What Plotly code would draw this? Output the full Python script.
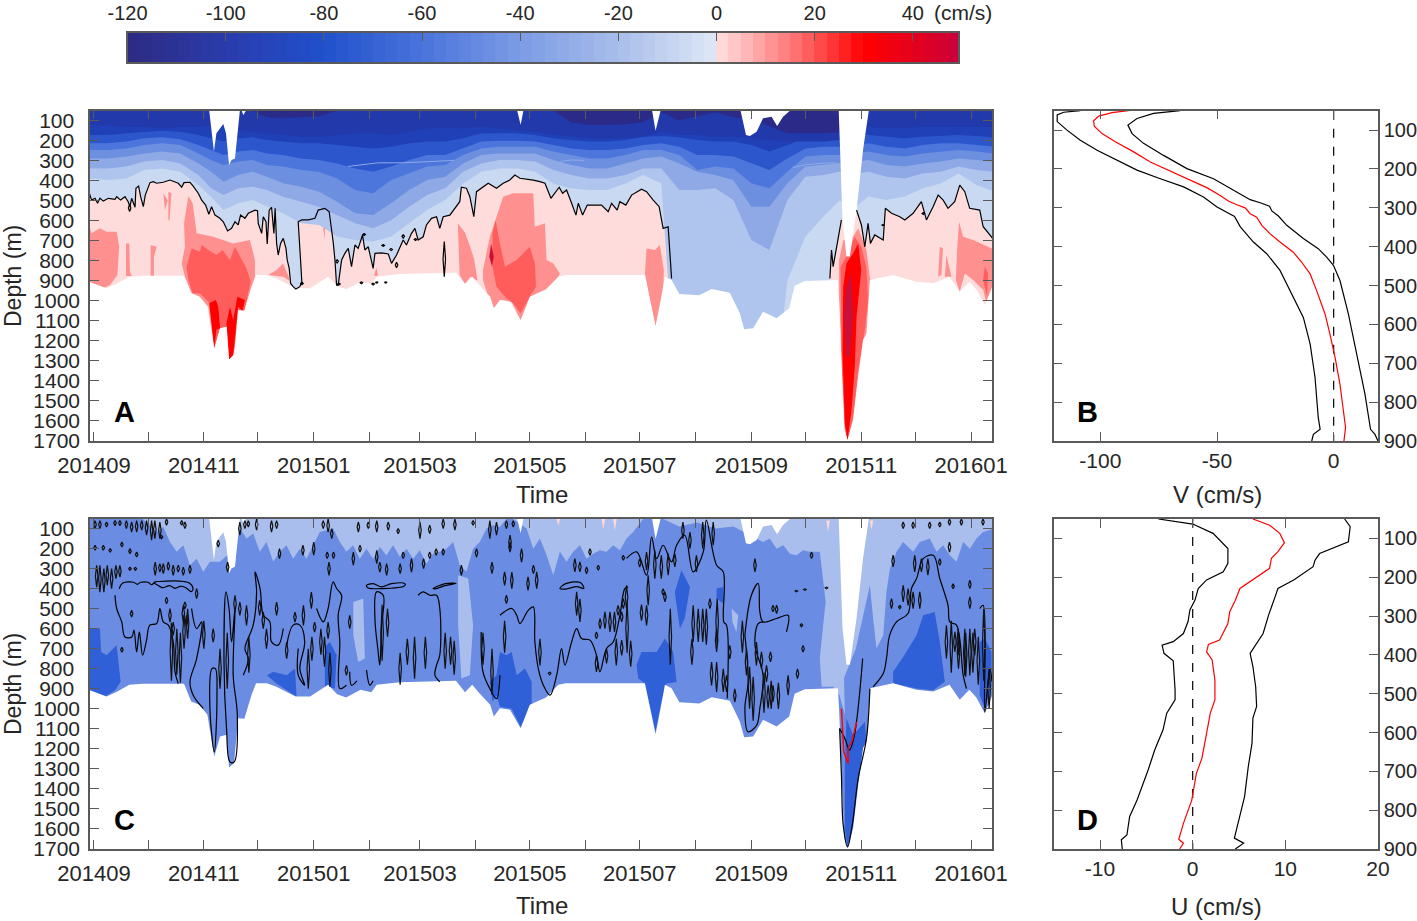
# Meridional (V) and zonal (U) velocity sections with mean profiles
import pandas as pd
import plotly.graph_objects as go

W, H = 1417, 921
start = pd.Timestamp('2014-09-01')
font_name = 'Liberation Sans'
txt = '#262626'
axc = '#5A5A5A'

month_days = [0, 30, 61, 91, 122, 153, 181, 212, 242, 273, 303, 334, 365, 395, 426, 456, 487]
month_text = ['201409', '', '201411', '', '201501', '', '201503', '', '201505', '', '201507', '', '201509', '', '201511', '', '201601']
depth_ticks = list(range(100, 1800, 100))
profile_ticks = list(range(100, 1000, 100))

# colour bar
cb_levels = [-120 + 2.5 * i for i in range(68)]
cb_stops = [(-120, '#2E2A82'), (-100, '#2A3CAC'), (-80, '#2050CC'), (-60, '#4A74DC'), (-40, '#7B9BE4'),
            (-20, '#A8BDEA'), (-0.01, '#DEE8F6'), (0, '#FFE0E0'), (10, '#FF9C9C'), (20, '#FF5555'),
            (30, '#FF0000'), (40, '#E6001C'), (50, '#C8003C')]

# isotachs of V, depth in m at these days since 2014-09-01
iso_days = [-3, 8, 18, 28, 38, 48, 58, 65, 72, 80, 88, 96, 105, 115, 125, 135, 145, 155, 165, 175, 185, 195, 205, 215, 225, 235, 245, 255, 265, 275, 285, 295, 305, 315, 325, 335, 345, 355, 365, 375, 385, 395, 405, 414, 423, 430, 440, 450, 460, 470, 480, 490, 500]
v_m10 = [390, 398, 390, 348, 340, 356, 423, 481, 548, 514, 498, 531, 564, 614, 622, 680, 697, 705, 680, 614, 548, 498, 415, 356, 340, 340, 356, 415, 440, 448, 448, 415, 373, 415, 1700, 1700, 1700, 1700, 1700, 1700, 900, 680, 580, 500, 530, 480, 498, 480, 440, 415, 365, 423, 456]
v_m20 = [340, 340, 331, 306, 298, 315, 373, 439, 473, 439, 431, 448, 481, 506, 531, 573, 614, 639, 598, 531, 473, 439, 356, 315, 298, 298, 306, 348, 373, 390, 390, 373, 340, 340, 448, 448, 439, 498, 697, 747, 498, 381, 373, 356, 365, 356, 381, 390, 365, 356, 331, 348, 356]
v_m30 = [290, 290, 281, 265, 256, 265, 315, 356, 406, 373, 356, 381, 414, 431, 456, 506, 564, 573, 514, 448, 398, 381, 315, 273, 265, 265, 265, 298, 323, 340, 340, 315, 290, 281, 315, 356, 373, 398, 531, 531, 414, 331, 323, 315, 306, 298, 323, 331, 315, 306, 290, 298, 306]
v_m40 = [248, 248, 240, 223, 215, 223, 265, 298, 323, 306, 298, 323, 331, 348, 356, 390, 448, 464, 398, 365, 331, 323, 273, 240, 232, 232, 232, 256, 273, 290, 290, 273, 248, 248, 273, 348, 331, 340, 414, 439, 356, 281, 273, 273, 265, 256, 273, 281, 265, 256, 248, 256, 265]
v_m50 = [215, 215, 206, 190, 185, 195, 223, 248, 273, 256, 248, 265, 273, 290, 298, 315, 340, 356, 331, 298, 273, 273, 240, 206, 202, 202, 206, 223, 240, 248, 248, 240, 223, 215, 232, 273, 273, 281, 315, 348, 290, 240, 232, 232, 223, 215, 232, 240, 223, 215, 215, 223, 232]
v_m70 = [173, 173, 165, 157, 152, 157, 173, 190, 206, 190, 185, 198, 206, 215, 215, 223, 232, 240, 232, 215, 206, 206, 190, 165, 165, 165, 173, 190, 198, 206, 206, 198, 182, 178, 185, 198, 206, 206, 223, 256, 223, 190, 185, 185, 173, 173, 182, 190, 182, 178, 173, 178, 185]
v_m90 = [123, 123, 132, 132, 140, 132, 132, 123, 132, 148, 157, 165, 173, 182, 182, 173, 165, 165, 173, 157, 140, 140, 140, 132, 140, 148, 157, 173, 182, 190, 190, 190, 182, 157, 173, 173, 182, 182, 190, 198, 206, 206, 206, 198, 140, 132, 140, 140, 132, 132, 132, 132, 132]
v_m100 = [52, 52, 52, 52, 52, 52, 52, 52, 52, 52, 52, 85, 90, 85, 80, 52, 52, 52, 52, 52, 52, 52, 52, 52, 52, 52, 52, 52, 110, 123, 123, 120, 110, 60, 100, 80, 60, 85, 95, 130, 165, 165, 165, 160, 52, 52, 52, 52, 52, 52, 52, 52, 52]
blue_colors = ['#C9D9F1', '#B0C5EE', '#8EA9E6', '#6C8FE0', '#4C76DB', '#2C56CC', '#1F40B6', '#2139AB', '#2B2A88']
blue_isos = [v_m10, v_m20, v_m30, v_m40, v_m50, v_m70, v_m90, v_m100]
# pale thin streaks inside the blue bands
streak_days = [141, 150, 158, 172, 185, 200, None, 259, 265, 272, None, 388, 395, 404, 412]
streak_depth = [330, 322, 312, 312, 305, 300, None, 305, 298, 300, None, 335, 322, 314, 312]

# zero contour of V, None where it stops
zero_days = [-3, -1.3, 0.6, 2, 3.3, 5.2, 8, 11.7, 12.6, 14.8, 17.2, 19, 20, 20.9, 22.8, 23.3, 24.8, 25.9, 27.4, 28.5, 31.1, 32.9, 34.8, 38.5, 42.2, 45, 46.8, 48.7, 50, 53.3, 55.1, 57.9, 59.8, 62, 63.8, 65.3, 67.2, 69.9, 71.8, 74.2, 76.4, 78.3, 80.1, 81.4, 83.8, 85.7, 89.4, 90.8, 91.2, 93.1, 94, 95.5, 96.2, 97.3, 98.6, 99.9, 100.6, 101.4, 102.3, 103.6, 105.1, 106.6, 107.3, 108.4, 109.2, 110.6, 112.1, 114.3, 115.4, 114.7, 113.4, 115.3, 119, 122.7, 124.5, 128.2, 130.6, 132.8, 133.8, 134.7, 135.6, 137.5, 139.3, 141.2, 143, 144.9, 146.7, 149.1, 150.4, 152.3, 155, 156, 159.7, 163.4, 165.2, 168, 169.8, 171.7, 173.5, 176.3, 178.2, 180, 182.8, 184.6, 187.4, 190.2, 192, 193.9, 197.6, 200.4, 203.1, 204, 206.8, 208.7, 210.9, 212.4, 215.2, 218.9, 223.5, 227.2, 230.9, 233.7, 236.5, 240.2, 243.9, 247.6, 250.4, 253.7, 255.9, 258.3, 260.2, 262.4, 265.2, 267.6, 268.9, 271.3, 273.9, 278.1, 281.8, 285.5, 287.4, 290.5, 292, 295.3, 298.5, 304, 306.8, 310.5, 313.8, 316, 318.8, 320.7, None, 408.6, 409.5, 410.4, 412.3, 415, None, 423.4, 426.1, 428, 429.8, 431.1, 433.5, 438.2, 439.4, 442.8, 447.4, 450.2, 454.8, 459.4, 462.2, 465.9, 468.7, 471.5, 474.2, 477.9, 480.7, 483.5, 486.2, 491.8, 493.7, 500]
zero_depth = [451, 498, 489, 514, 489, 503, 489, 494, 481, 498, 481, 506, 531, 489, 534, 439, 428, 481, 531, 473, 411, 406, 414, 409, 398, 406, 414, 434, 411, 409, 428, 464, 498, 523, 569, 531, 573, 589, 606, 652, 639, 606, 622, 573, 589, 564, 548, 551, 614, 664, 581, 606, 717, 548, 534, 664, 539, 714, 772, 714, 689, 739, 797, 839, 914, 930, 942, 930, 905, 797, 606, 597, 597, 589, 548, 539, 556, 706, 797, 922, 922, 797, 764, 739, 830, 722, 739, 672, 747, 731, 839, 764, 761, 767, 814, 772, 731, 697, 722, 664, 639, 697, 681, 622, 589, 581, 639, 581, 573, 539, 506, 434, 439, 481, 581, 456, 439, 414, 439, 414, 398, 373, 389, 393, 398, 406, 414, 489, 464, 434, 464, 448, 514, 573, 514, 573, 523, 523, 523, 556, 514, 548, 506, 523, 473, 444, 456, 498, 531, 639, 631, 889, None, 889, 747, 830, 731, 597, None, 548, 622, 731, 614, 714, 672, 697, 539, 564, 581, 597, 564, 506, 597, 531, 473, 498, 539, 506, 423, 456, 539, 548, 631, 700]
# isolated closed zero contours in A, as short strokes
a_stroke_days = [19.8, 194.5, 171.7, 178.5, 150, 160.6, 165, 168, 135, 136, 148.5, 155, 115.5, 157, 162, 438, 460.5]
a_stroke_top = [520, 705, 670, 690, 665, 720, 740, 808, 795, 912, 905, 912, 908, 905, 905, 620, 560]
a_stroke_bot = [555, 880, 688, 700, 675, 728, 750, 835, 812, 922, 915, 922, 920, 912, 912, 625, 570]

# data edges, shared by A and C
bottom_days = [-3, 7, 13, 19.6, 27, 50, 54, 58.5, 63, 66.8, 70, 73.7, 75, 77.8, 80, 83.5, 87.5, 90, 96, 101, 112, 120, 130, 135, 140, 148, 154, 157, 170, 201, 206, 210, 214, 220, 222, 225.4, 231, 236.9, 242, 251, 257.8, 262, 305.9, 308.7, 311.8, 315, 317, 320.7, 325, 336, 343, 353, 358.6, 361, 366, 371.5, 379, 386, 389, 394.7, 413, 413.7, 415, 416.5, 418.4, 421.5, 424.3, 427, 429, 430.8, 443.7, 456.6, 466, 475, 480.7, 486, 490, 494.6, 500]
bottom_depth = [905, 938, 913, 880, 875, 875, 963, 980, 1030, 1238, 1138, 1130, 1293, 1271, 1047, 1050, 930, 872, 872, 888, 938, 938, 880, 927, 943, 905, 917, 880, 867, 860, 917, 880, 922, 980, 1038, 997, 1005, 1097, 980, 943, 880, 872, 872, 997, 1127, 980, 880, 897, 967, 973, 942, 960, 1063, 1142, 1138, 1055, 1088, 1038, 925, 902, 897, 1000, 1330, 1640, 1696, 1596, 1380, 1196, 1163, 897, 872, 905, 913, 880, 955, 905, 945, 1022, 905]
gap_days = [[64, 66.6, 68, 71.8, 73.3, 75, 76.4, 78.3, 81], [82, 82.9, 84.4], [235, 236.9, 238.4], [309.9, 311.8, 314.6], [359, 362, 364.2, 367.9, 371.5, 376.2, 379.3, 382.6, 386.4], [413.5, 415, 415.6, 417.8, 419.7, 423.4, 427, 430.2]]
gap_depth = [[52, 256, 165, 118, 165, 323, 298, 290, 52], [52, 73, 52], [52, 123, 52], [52, 152, 52], [52, 173, 178, 157, 90, 82, 128, 82, 52], [52, 498, 597, 780, 780, 548, 248, 52]]

# positive V patches in A
red10_days = [[-3, -1.3, 3.3, 7, 12.6, 14, 13, 9, 5.2, -3], [17.8, 19.6, 20, 21, 17.8], [31.5, 34.8, 33.3, 33.3, 31.5], [38.5, 41, 39.4], [41.3, 43, 42, 41.3], [52.4, 54.8, 57, 66.2, 77.3, 86.6, 89.4, 89.4, 87.5, 83.4, 77.3, 75, 73.6, 70, 66.8, 63.5, 58.8, 54.2, 50.5, 48.7, 50.5, 50], [96.8, 101.4, 105, 108, 108.5, 105], [156.8, 157.8, 155.5], [127.3, 128.2, 128.2], [202, 206, 209, 211, 213, 209, 206, 203], [216, 219.8, 227.2, 232.8, 243.9, 244.8, 250.4, 251.3, 255, 258.7, 256.9, 252.2, 243.9, 236.9, 231.9, 226.3, 222, 218.9, 216], [306.8, 311.4, 314.2, 316.4, 316, 311.8, 308.7, 305.9], [469.6, 471.4, 470.5, 468.7], [473.3, 475.2, 476.1, 472.4], [480.3, 482.6, 488.1, 500, 500, 495.5, 493.7, 488.1, 483.5, 480.7, 478.5, 479.2], [416, 421.5, 424.3, 428.9, 431, 428.9, 424.3, 421.5, 418.4, 416.9, 415.4, 413.7, 413.7]]
red10_depth = [[614, 664, 639, 656, 656, 730, 872, 922, 938, 905], [714, 714, 855, 877, 877], [722, 731, 781, 877, 877], [464, 500, 548], [456, 464, 598, 598], [478, 514, 664, 681, 714, 697, 797, 880, 930, 1050, 1263, 1293, 1130, 1138, 1238, 1030, 980, 963, 880, 814, 731, 614], [872, 847, 814, 877, 900, 880], [835, 875, 875], [640, 630, 697], [614, 660, 735, 790, 900, 880, 917, 870], [847, 681, 481, 464, 464, 631, 614, 797, 814, 864, 897, 943, 980, 1097, 1005, 997, 1038, 980, 897], [739, 747, 722, 847, 980, 1127, 997, 864], [731, 739, 872, 880], [772, 847, 880, 880], [606, 681, 697, 745, 897, 1013, 947, 897, 864, 955, 897, 747], [698, 681, 639, 747, 897, 1163, 1380, 1596, 1696, 1646, 1330, 997, 797]]
red20_days = [[51.4, 54.2, 58.8, 59.8, 63.5, 68, 71.4, 75.5, 78.3, 84.7, 87, 83.8, 77.3, 75, 73.6, 70, 66.8, 64.4, 58.8, 54.8, 52.4], [221.3, 223, 225, 228.2, 234.7, 242, 244.8, 245.4, 243, 236.9, 232.8, 228.2, 223.5, 221.3], [494.6, 496.4, 495.9, 493.7], [417.8, 422.4, 426, 428.9, 429.8, 428, 424.3, 421.5, 418.4, 416.9, 415, 414.5, 414.5]]
red20_depth = [[830, 739, 756, 722, 747, 772, 747, 797, 731, 839, 905, 1038, 1263, 1293, 1130, 1138, 1238, 1013, 963, 963, 897], [664, 598, 697, 830, 797, 731, 814, 930, 964, 1063, 1014, 980, 930, 830], [830, 864, 980, 897], [780, 681, 731, 830, 997, 1146, 1347, 1580, 1696, 1630, 1297, 997, 830]]
red30_days = [[64, 67.7, 69, 70, 68, 66.8], [73.6, 75.5, 77.3, 79.6, 83.8, 82.5, 80, 77.3, 75], [417.8, 421.5, 424.3, 426, 423.4, 422.4, 420.6, 418.4, 416.9, 415.6, 416]]
red30_depth = [[1013, 997, 1030, 1138, 1145, 1238], [1113, 1030, 1097, 980, 997, 1050, 1030, 1271, 1293], [813, 764, 714, 847, 1080, 1330, 1546, 1696, 1613, 1263, 930]]
red40_days = [[417.8, 420.6, 421.5, 419.6, 417.8, 416.4], [219.5, 220.5, 222, 221]]
red40_depth = [[930, 864, 1080, 1280, 1280, 1080], [780, 714, 780, 830]]

# U section, depth of the lower edge of the weak upper band
c_band_days = [-3, 27, 31.1, 34.8, 38.5, 42.2, 45.9, 49.6, 53.3, 57, 60.7, 64.4, 70, 78, 81, 84.7, 88.4, 92.1, 95.8, 99.5, 103.2, 106.9, 110.6, 114.3, 118, 121.7, 125.4, 132.8, 136.5, 140.2, 143.9, 147.6, 151.3, 155, 158.7, 162.4, 166.1, 169.8, 173.5, 177.2, 180.9, 184.6, 188.3, 192, 195.7, 199.4, 203.1, 206.8, 210.5, 214.2, 218, 221.6, 225.3, 229, 232.7, 240.2, 243.9, 247.6, 251.3, 255, 258.7, 262.4, 266.1, 269.8, 273.5, 277.2, 280.9, 284.6, 288.3, 292, 295.7, 299.4, 305, 316, 325, 335, 345, 355, 371.5, 375.2, 379, 382.7, 386.4, 390, 393.8, 397.5, 403, 406.7, 410.4, 412.3, 414, 423, 430.8, 432.6, 434.5, 438.2, 440, 441.9, 445.6, 449.3, 454.8, 458.5, 464, 467.8, 471.5, 475.2, 478.9, 482.6, 486.3, 490, 493.7, 500]
c_band_depth = [52, 52, 83, 117, 92, 167, 216, 183, 283, 250, 316, 266, 266, 200, 100, 150, 125, 216, 167, 266, 216, 183, 250, 200, 250, 183, 117, 100, 167, 216, 183, 250, 200, 250, 192, 233, 183, 241, 200, 250, 208, 275, 225, 216, 200, 167, 283, 316, 200, 167, 100, 83, 92, 52, 52, 100, 200, 150, 233, 333, 216, 266, 216, 183, 250, 225, 208, 216, 183, 208, 150, 117, 52, 52, 90, 70, 100, 90, 167, 150, 200, 183, 225, 233, 208, 216, 216, 499, 832, 882, 900, 700, 383, 549, 699, 632, 416, 300, 216, 167, 216, 167, 150, 216, 183, 233, 266, 167, 200, 150, 117, 100]
c_light_days = [[144, 149.5, 150.4, 146.7, 144], [202.2, 207.8, 210.5, 208.7, 204, 202.2], [403, 405.8, 410.4, 414, 416, 416.9, 414, 410.4, 404], [354, 357.7, 356.7, 354.5]]
c_light_depths = [[466, 449, 749, 766, 632], [333, 349, 582, 832, 849, 582], [749, 499, 216, 166, 666, 1032, 932, 890, 890], [499, 533, 616, 566]]
c_dark_days = [[-3, 3.3, 4, 7, 12.6, 14.8, 11.7, 6, -3], [96, 99.5, 107, 111.6, 112.5, 107, 101.4], [128.2, 131, 134.7, 133.8, 128.2], [225.4, 229, 231.9, 234.7, 239.3, 243, 243, 236.9, 231.9, 225.4, 223.5, 221.3, 219.8, 223.5], [301.2, 304, 312.4, 317, 321.6, 323.5, 317.9, 315, 311.8, 307.7, 305, 302.2], [322.5, 326.2, 330.9, 329, 328, 325.3, 323.5], [345.7, 349.4, 349.4, 345.7], [443.7, 449.3, 456.7, 460.4, 466.8, 469.6, 472.4, 465.9, 456.7, 443.7], [417.8, 421.5, 428, 428.9, 424.3, 421.5, 418.4, 416.9, 416.9], [491.8, 494.6, 498.3, 498.3, 494.6, 491.8]]
c_dark_depth = [[600, 600, 716, 732, 682, 865, 907, 940, 907], [832, 815, 832, 799, 940, 907, 874], [691, 666, 732, 899, 890], [716, 732, 716, 832, 799, 865, 982, 1090, 999, 990, 932, 965, 865, 832], [782, 716, 716, 649, 716, 866, 874, 965, 1115, 949, 866, 849], [416, 308, 391, 483, 549, 599, 483], [399, 391, 474, 449], [815, 741, 632, 533, 516, 666, 865, 907, 899, 874], [1048, 1132, 1065, 1165, 1365, 1581, 1693, 1598, 1281], [666, 649, 716, 882, 998, 932]]
c_pink_days = [[256.8, 257.8, 258.8], [281.8, 282.8, 283.8], [288.2, 289.2, 290.2], [406.6, 407.6, 408.6], [430.7, 431.7, 432.7]]
c_pink_depth = [[52, 85, 52], [52, 105, 52], [52, 110, 52], [60, 115, 60], [60, 105, 60]]

# zero contour of U: longer pieces
c_line_days = [[14, 16, 22, 24, 26, 30, 32, 34, 36, 50, 53, 55, 54, 51, 48, 45, 42, 38, 35, 33], [11.7, 12.6, 15.4, 17.2, 21, 22.2, 23.7, 25.2, 27, 29.2, 31, 34.8, 36.6, 38.5, 41.3, 44, 45, 46.8], [54.2, 57, 59.8, 57, 53.3, 55.1, 60.7], [64.4, 66.8, 68.3, 67.4, 65.5, 64.4], [73.3, 72.2, 73.6, 75.5, 77.9, 79.6, 77.3, 78.3, 76.4, 75, 73.3], [82.9, 85.7, 83.8, 88.4, 90.3, 89.4, 92.2, 94, 97.7, 98.6, 102.3, 105.1], [107, 110.6, 114.3, 117, 114.3, 117, 113.4, 113.4], [123.6, 127.3, 130, 132.8, 134.7, 137.5, 135.6, 136.5, 136.5, 140.2], [156.9, 156, 157.8, 158.7, 159.7, 160.6, 156.9], [151.3, 155, 159.7, 165.2, 172.6, 172.6, 160, 152, 151.3], [180, 182.8, 186.5, 190.2, 192, 192, 190.2, 189.3, 192], [188.3, 195, 201, 195, 190, 188.3], [215, 216, 219.8, 223.5, 225.4], [225.4, 231.9, 234.7, 236.5, 241.1, 243.9, 244.8, 246.7, 249.5, 253.2, 256.9, 259.6, 261.5, 265.2, 268, 270.7, 275.4, 279, 280.9, 284.6, 288.3, 292, 294.8, 296.6], [258.7, 262, 270, 272, 268, 262, 258.7], [295.7, 301.3, 306.8, 309.6, 312.4, 316, 320.7, 323.5, 328, 332.7, 338.3, 340, 345.7, 349.4, 349.7, 351.2, 351.6], [361.4, 365, 368.8, 369.7, 371.5, 379, 385.4, 384.5], [361.4, 363.2, 361.4, 363.2, 367.9, 369.7, 371.5, 367, 368.8, 371.5], [432.6, 438.2, 440, 441.8, 445.6, 452, 453.9, 456.7, 460.4, 466, 469.6, 474.2, 475.2, 478.9, 482.6, 484.4], [491.8, 493.7, 494.6, 497.4, 498.6], [414, 415, 416, 418.4, 421, 424.3, 428.9, 430.8], [414, 416.9, 419.5, 422.2, 426.8], [142, 143, 146], [151.3, 153.2, 155]]
c_line_depth = [[400, 372, 368, 378, 368, 368, 380, 366, 364, 364, 372, 400, 415, 395, 388, 398, 385, 395, 380, 370], [433, 499, 566, 641, 641, 607, 716, 616, 732, 657, 582, 574, 499, 566, 582, 666, 815, 874], [499, 599, 566, 749, 865, 932, 998], [998, 1215, 932, 799, 799, 998], [416, 766, 1098, 1265, 1265, 1032, 832, 499, 666, 499, 416], [832, 749, 699, 582, 416, 316, 399, 532, 566, 666, 682, 599], [682, 582, 582, 666, 799, 882, 832, 699], [499, 566, 499, 366, 399, 433, 532, 666, 899, 882], [416, 549, 716, 782, 582, 433, 416], [383, 375, 391, 375, 375, 385, 400, 395, 383], [433, 416, 433, 433, 499, 732, 782, 832, 865], [400, 375, 373, 385, 400, 400], [616, 815, 899, 949, 832], [533, 499, 533, 574, 508, 491, 666, 799, 882, 932, 832, 699, 782, 666, 599, 649, 657, 732, 815, 699, 666, 533, 399, 391], [399, 375, 369, 399, 390, 402, 399], [249, 216, 333, 142, 250, 183, 266, 183, 133, 316, 216, 58, 283, 316, 566, 582, 948], [632, 433, 374, 516, 566, 549, 533, 616], [632, 865, 998, 1115, 1082, 998, 832, 682, 574, 566], [890, 824, 749, 632, 566, 524, 399, 349, 250, 233, 349, 483, 566, 582, 832, 899], [499, 483, 1015, 799, 865], [1098, 1331, 1581, 1689, 1581, 1348, 1148, 899], [1098, 1148, 1206, 1132, 749], [815, 882, 860], [807, 882, 860]]
red_line_days = [415, 416.3, 418.7, 418.7, 421.1, 423.4]
red_line_depth = [998, 1215, 1273, 1198, 1157, 1065]
# zero contour of U: small closed loops, given by day and depth span
c_tick_days = [0.6, 3.3, 7, 11.7, 14.4, 18, 20.9, 23.7, 26.5, 29.2, 32, 33.8, 36.6, 40.3, 48.7, 50.5, 81, 83.8, 85.7, 90.3, 98.6, 101.4, 127.3, 130, 132, 146.8, 152.3, 157, 163.4, 168.9, 181, 186.4, 193.9, 200.4, 210.5, 219.8, 223.5, 229, 232.8, 15.5, 20, 23.7, 9, 5.2, 37.5, 57, 50.5, 69, 103, 116, 122, 129.5, 130.5, 133, 144, 147.7, 157, 158.7, 162.5, 170, 171.7, 176.3, 183, 186.4, 190, 193.9, 204, 212.4, 221, 231, 232, 229, 0.6, 1.5, 3.3, 5.5, 7.4, 9.8, 12.2, 14.4, 20, 23, 34, 36.6, 38.5, 41.3, 44, 46.8, 49.6, 53.3, 74.2, 20.9, 15.5, 40.3, 42.2, 44, 49.6, 51.4, 66.2, 78.3, 81, 84.7, 92, 94, 95.8, 101.4, 107, 111.6, 116.3, 120.7, 122.5, 130, 142, 140.2, 237.4, 231, 228, 241, 244, 245.8, 275.4, 280, 269.8, 267, 273.5, 268, 269.8, 279, 281, 283.7, 286.5, 289, 291, 293, 290, 293, 279, 284.6, 247.6, 253, 293.9, 303, 306.8, 311.4, 315, 318.8, 322.5, 327, 330.9, 334.5, 338, 343.8, 306.8, 316, 317, 307.7, 293.9, 295.7, 332.7, 335.5, 338, 342, 345.7, 342.9, 345.7, 349.4, 351.2, 353, 355.8, 362.3, 367.8, 370.6, 373.4, 375.6, 377, 374.3, 385.4, 390.6, 393.7, 392.8, 398.4, 367, 377, 379, 390, 394.7, 406.7, 443.7, 442.8, 447.4, 449.3, 452, 454.8, 458.5, 455.7, 459.4, 463, 469.6, 475, 481.6, 486.3, 486.3, 477, 473.3, 478, 479.8, 483.5, 486.3, 489, 449.3, 454.8, 464, 469.6, 475, 493.6, 43, 46, 48, 50, 52, 61, 70, 74, 86, 119, 121, 126, 128, 131, 160, 163, 170, 174, 178, 184, 195, 198, 200, 216, 221, 228, 296, 298, 304, 320, 332, 340, 346, 360, 364, 366, 372, 376, 380, 476, 480, 484, 488, 491, 494, 497]
c_tick_top = [60, 60, 67, 60, 60, 60, 67, 60, 60, 60, 60, 60, 67, 52, 60, 67, 67, 60, 60, 52, 60, 60, 60, 52, 100, 67, 67, 60, 67, 100, 67, 83, 52, 52, 60, 60, 67, 60, 60, 167, 200, 217, 200, 183, 133, 400, 466, 158, 200, 183, 167, 217, 267, 217, 217, 183, 208, 267, 275, 275, 217, 250, 250, 217, 200, 200, 283, 200, 267, 167, 317, 433, 183, 283, 283, 300, 283, 300, 283, 283, 292, 292, 267, 275, 275, 267, 283, 283, 292, 283, 267, 508, 692, 442, 500, 567, 483, 533, 600, 433, 467, 483, 458, 517, 600, 467, 667, 517, 483, 417, 567, 567, 533, 783, 200, 133, 316, 341, 283, 316, 200, 283, 266, 250, 291, 416, 450, 616, 550, 516, 516, 516, 483, 516, 650, 657, 733, 700, 650, 815, 233, 250, 217, 208, 233, 225, 225, 67, 117, 233, 67, 67, 483, 400, 416, 333, 450, 383, 483, 500, 500, 450, 600, 766, 766, 800, 833, 683, 900, 700, 666, 716, 783, 716, 883, 883, 833, 800, 683, 574, 217, 250, 483, 483, 408, 400, 391, 233, 450, 483, 383, 400, 416, 416, 233, 250, 250, 250, 167, 52, 358, 441, 375, 583, 616, 600, 600, 600, 600, 67, 67, 67, 67, 52, 52, 570, 600, 620, 530, 500, 560, 700, 620, 640, 700, 640, 600, 640, 720, 480, 500, 720, 650, 640, 640, 620, 640, 660, 620, 700, 560, 470, 660, 480, 500, 650, 500, 450, 560, 790, 840, 820, 860, 870, 560, 640, 620, 620, 640, 500, 800]
c_tick_bot = [100, 100, 92, 85, 85, 100, 117, 117, 108, 133, 158, 150, 150, 83, 83, 100, 133, 100, 92, 108, 117, 100, 100, 117, 150, 117, 100, 117, 108, 125, 150, 125, 100, 108, 83, 150, 133, 100, 92, 192, 225, 242, 217, 208, 150, 450, 500, 192, 250, 233, 233, 250, 333, 250, 283, 217, 275, 317, 333, 325, 250, 317, 300, 250, 233, 233, 333, 242, 325, 217, 400, 475, 208, 392, 417, 417, 383, 400, 350, 342, 308, 308, 333, 317, 325, 308, 333, 317, 333, 325, 317, 542, 717, 475, 567, 633, 567, 592, 667, 517, 533, 583, 533, 600, 700, 533, 750, 567, 583, 500, 617, 650, 600, 833, 267, 200, 383, 408, 325, 400, 233, 308, 316, 316, 325, 533, 566, 650, 600, 600, 616, 616, 533, 566, 783, 733, 815, 773, 783, 830, 258, 292, 308, 350, 350, 333, 291, 150, 200, 316, 200, 183, 583, 433, 466, 483, 500, 500, 666, 666, 666, 500, 716, 883, 916, 916, 916, 750, 966, 833, 783, 800, 866, 766, 966, 998, 932, 849, 716, 590, 250, 316, 516, 524, 416, 408, 400, 291, 500, 500, 466, 483, 500, 500, 316, 316, 333, 283, 217, 83, 400, 500, 400, 749, 716, 733, 833, 833, 733, 100, 100, 100, 92, 83, 83, 860, 830, 870, 700, 650, 700, 900, 900, 820, 900, 760, 730, 790, 890, 760, 640, 880, 780, 850, 800, 800, 780, 830, 780, 930, 720, 720, 790, 560, 780, 780, 680, 680, 720, 1000, 1060, 1020, 1000, 1000, 820, 800, 840, 820, 880, 860, 1000]

# mean profile and its spread
b_red_x = [-88, -95, -100.7, -102.9, -102.6, -99.3, -93.6, -85.7, -78.6, -70.8, -62.9, -54.4, -48.6, -45, -41.5, -37.9, -35.8, -33, -30.8, -27.2, -23, -17.3, -13.7, -10.1, -7.3, -3.7, -1.6, 0.6, 2.7, 4.1, 5.1, 4.4]
b_red_y = [50, 55, 64, 76, 90, 109, 130, 156, 182, 203, 225, 248, 268, 283, 292, 300, 315, 324, 345, 367, 388, 414, 440, 470, 513, 573, 625, 685, 754, 814, 865, 900]
b_low_x = [-108.6, -115.7, -118.5, -118.5, -114.3, -108.6, -101.4, -94.3, -84.3, -74.3, -64.3, -55.8, -50, -42.5, -40, -34.4, -28.7, -23, -18.7, -13, -10.1, -8, -6.6, -5.8, -8.7, -9.4]
b_low_y = [50, 54, 61, 78, 100, 126, 152, 173, 203, 225, 246, 272, 298, 322, 349, 388, 418, 461, 513, 582, 650, 736, 840, 870, 883, 900]
b_high_x = [-65.8, -77.2, -84.3, -88.2, -86.4, -81.5, -72.9, -62.9, -51.5, -44.4, -35.8, -31.5, -27.5, -26.5, -23.7, -20.1, -13, -6.6, -3, -0.1, 2.7, 6.3, 9.8, 13.4, 15.8, 17.7, 19]
b_high_y = [50, 57, 70, 87, 109, 134, 165, 199, 225, 250, 279, 287, 296, 308, 321, 345, 379, 405, 427, 448, 487, 573, 676, 779, 870, 883, 900]
d_red_x = [6.5, 8.3, 9.4, 9.9, 9.2, 8.5, 8.3, 6.5, 5.1, 4.6, 4, 3.8, 2.9, 1.7, 1.5, 2.1, 2.4, 2.4, 1.9, 1.5, 1, 0.4, -0.1, -1, -1.5, -1, -1.4]
d_red_y = [50, 66, 87, 111, 134, 151, 177, 206, 229, 259, 289, 319, 362, 373, 392, 413, 465, 516, 550, 602, 666, 705, 774, 834, 875, 885, 900]
d_low_x = [-3.7, 0, 2.2, 3.8, 3.8, 3.3, 1.5, 0.6, 0.25, -0.3, -0.5, -1, -2.1, -3.3, -3.1, -2.1, -1.9, -1.9, -2.8, -3.2, -4.1, -4.8, -6, -6.8, -7.1, -7.7, -7.6]
d_low_y = [50, 63, 87, 126, 164, 186, 207, 229, 259, 284, 314, 345, 366, 375, 396, 415, 490, 516, 550, 593, 645, 696, 774, 816, 864, 876, 900]
d_high_x = [16.4, 17, 16.8, 13.7, 13.2, 13, 10.9, 9.2, 8.9, 8.2, 7.6, 6.2, 6.5, 6.8, 6.9, 6.5, 6.4, 6, 5.6, 5.1, 4.5, 5.5, 4.6]
d_high_y = [50, 70, 109, 139, 156, 173, 207, 229, 250, 297, 345, 396, 430, 482, 533, 563, 628, 688, 765, 816, 872, 885, 900]


def dates(days):
    return [None if d is None else str(start + pd.Timedelta(days=d)) for d in days]


def patch(xa, ya, x, y, color):
    return go.Scatter(x=x, y=y, xaxis=xa, yaxis=ya, mode='lines', fill='toself', fillcolor=color,
                      line=dict(width=0), hoverinfo='skip', showlegend=False)


def curve(xa, ya, x, y, color, width=1.2, dash=None, shape='linear'):
    return go.Scatter(x=x, y=y, xaxis=xa, yaxis=ya, mode='lines', connectgaps=False,
                      line=dict(color=color, width=width, dash=dash, shape=shape), hoverinfo='skip', showlegend=False)


def loops(days, top, bot):
    # a narrow closed contour around each span
    xs, ys = [], []
    for d, a, b in zip(days, top, bot):
        m = (a + b) / 2
        xs += [d, d + 0.7, d, d - 0.7, d, None]
        ys += [a, m, b, m, a, None]
    return xs, ys


def pieces(days, depth):
    xs, ys = [], []
    for a, b in zip(days, depth):
        xs += a + [None]
        ys += b + [None]
    return xs, ys


def below_iso(xa, ya, days, depth, color):
    return patch(xa, ya, dates(days + days[::-1]), depth + [40] * len(days), color)


def add_masks(xa, ya):
    fig.add_trace(patch(xa, ya, dates(bottom_days + [500, -3]), bottom_depth + [1800, 1800], 'white'))
    for x, y in zip(gap_days, gap_depth):
        fig.add_trace(patch(xa, ya, dates(x), y, 'white'))


fig = go.Figure()

# panel A
fig.add_trace(patch('x', 'y', dates([-3, 500, 500, -3]), [40, 40, 1800, 1800], '#FFDCDC'))
zero_fill_x, zero_fill_y = [], []
for i, d in enumerate(zero_days):
    if d is None:
        if zero_days[i + 1] - zero_days[i - 1] > 20:
            zero_fill_x += [zero_days[i - 1], zero_days[i + 1]]
            zero_fill_y += [1800, 1800]
    else:
        zero_fill_x.append(d)
        zero_fill_y.append(zero_depth[i])
fig.add_trace(patch('x', 'y', dates(zero_fill_x + [500, -3]), zero_fill_y + [40, 40], blue_colors[0]))
for iso, color in zip(blue_isos, blue_colors[1:]):
    fig.add_trace(below_iso('x', 'y', iso_days, iso, color))
fig.add_trace(curve('x', 'y', dates(streak_days), streak_depth, '#8FAAE7', 1))
for days, depth, color in [(red10_days, red10_depth, '#FF9090'), (red20_days, red20_depth, '#FF5C5C'),
                           (red30_days, red30_depth, '#FF0000'), (red40_days, red40_depth, '#C8103A')]:
    for x, y in zip(days, depth):
        fig.add_trace(patch('x', 'y', dates(x), y, color))
add_masks('x', 'y')
fig.add_trace(curve('x', 'y', dates(zero_days), zero_depth, 'black'))
sx, sy = loops(a_stroke_days, a_stroke_top, a_stroke_bot)
fig.add_trace(curve('x', 'y', dates(sx), sy, 'black', 1.2))

# panel C
fig.add_trace(patch('x3', 'y3', dates([-3, 500, 500, -3]), [40, 40, 1800, 1800], '#6A8CE2'))
fig.add_trace(below_iso('x3', 'y3', c_band_days, c_band_depth, '#A9BEEC'))
for x, y in zip(c_light_days, c_light_depths):
    fig.add_trace(patch('x3', 'y3', dates(x), y, '#A9BEEC'))
for x, y in zip(c_dark_days, c_dark_depth):
    fig.add_trace(patch('x3', 'y3', dates(x), y, '#2F60D8'))
for x, y in zip(c_pink_days, c_pink_depth):
    fig.add_trace(patch('x3', 'y3', dates(x), y, '#FFD9D9'))
add_masks('x3', 'y3')
lx, ly = pieces(c_line_days, c_line_depth)
fig.add_trace(curve('x3', 'y3', dates(lx), ly, 'black', 1.2, shape='spline'))
sx, sy = loops(c_tick_days, c_tick_top, c_tick_bot)
fig.add_trace(curve('x3', 'y3', dates(sx), sy, '#111111', 1.2))
fig.add_trace(curve('x3', 'y3', dates(red_line_days), red_line_depth, '#FF0000', 1.4))

# profiles
fig.add_trace(curve('x2', 'y2', [0, 0], [50, 900], 'black', 1.2, 'dash'))
fig.add_trace(curve('x2', 'y2', b_low_x, b_low_y, 'black'))
fig.add_trace(curve('x2', 'y2', b_high_x, b_high_y, 'black'))
fig.add_trace(curve('x2', 'y2', b_red_x, b_red_y, '#FF0000'))
fig.add_trace(curve('x4', 'y4', [0, 0], [50, 900], 'black', 1.2, 'dash'))
fig.add_trace(curve('x4', 'y4', d_low_x, d_low_y, 'black'))
fig.add_trace(curve('x4', 'y4', d_high_x, d_high_y, 'black'))
fig.add_trace(curve('x4', 'y4', d_red_x, d_red_y, '#FF0000'))

# colour bar
fig.add_trace(go.Heatmap(x=[v + 1.25 for v in cb_levels], y=[0], z=[[v + 1.25 for v in cb_levels]], xaxis='x5', yaxis='y5',
                         zmin=-120, zmax=50, showscale=False, hoverinfo='skip',
                         colorscale=[[(v + 120) / 170, c] for v, c in cb_stops]))

axis_common = dict(showline=True, linecolor=axc, linewidth=1.5, mirror='ticks', ticks='inside', ticklen=9,
                   tickwidth=1.2, tickcolor=axc, showgrid=False, zeroline=False, automargin=False,
                   tickfont=dict(family=font_name, size=21, color=txt))
x_tick_font = dict(family=font_name, size=22, color=txt)
prof_tick_font = dict(family=font_name, size=20, color=txt)


def time_axis(anchor):
    return dict(axis_common, domain=[90 / W, 992 / W], anchor=anchor, type='date', tickfont=x_tick_font,
                range=dates([-2.2, 498.6]), tickmode='array', tickvals=dates(month_days), ticktext=month_text,
                ticklabelstandoff=4)


def depth_axis(dom, anchor):
    # the source centres its depth labels, the shorter ones get a trailing space
    labels = [str(d) + '\u00a0' if d < 1000 else str(d) for d in depth_ticks]
    return dict(axis_common, domain=dom, anchor=anchor, range=[1700, 52], tickmode='array', tickvals=depth_ticks,
                ticktext=labels, ticklabelstandoff=4)


def prof_y(dom, anchor):
    return dict(axis_common, domain=dom, anchor=anchor, side='right', range=[900, 50], tickmode='array',
                tickvals=profile_ticks, tickfont=prof_tick_font)


def label(text, px, py, size=24, angle=0):
    return dict(text=text, xref='paper', yref='paper', x=px / W, y=1 - py / H, xanchor='center', yanchor='middle',
                showarrow=False, textangle=angle, font=dict(family=font_name, size=size, color=txt))


dom_top = [1 - 441 / H, 1 - 110.7 / H]
dom_low = [1 - 849 / H, 1 - 519 / H]
prof_dom = [1053.7 / W, 1378 / W]

fig.update_layout(
    width=W, height=H, margin=dict(l=0, r=0, t=0, b=0), paper_bgcolor='white', plot_bgcolor='white',
    font=dict(family=font_name, color=txt), showlegend=False,
    xaxis=time_axis('y'), yaxis=depth_axis(dom_top, 'x'),
    xaxis3=time_axis('y3'), yaxis3=depth_axis(dom_low, 'x3'),
    xaxis2=dict(axis_common, domain=prof_dom, anchor='y2', range=[-120, 19], tickmode='array', tickvals=[-100, -50, 0],
                ticktext=['-100', '-50', '0']),
    yaxis2=prof_y(dom_top, 'x2'),
    xaxis4=dict(axis_common, domain=prof_dom, anchor='y4', range=[-15, 20], tickmode='array', tickvals=[-10, 0, 10, 20],
                ticktext=['-10', '0', '10', '20']),
    yaxis4=prof_y(dom_low, 'x4'),
    xaxis5=dict(axis_common, domain=[127.5 / W, 958 / W], anchor='y5', side='top', range=[-120, 49.2], mirror=True,
                tickmode='array', tickvals=[-120, -100, -80, -60, -40, -20, 0, 20, 40],
                ticktext=['-120', '-100', '-80', '-60', '-40', '-20', '0', '20', '40'], ticklabelstandoff=3,
                tickfont=dict(family=font_name, size=20, color=txt)),
    yaxis5=dict(domain=[1 - 62 / H, 1 - 32.5 / H], anchor='x5', range=[-0.5, 0.5], showticklabels=False, ticks='',
                showline=True, linecolor=axc, linewidth=1.5, mirror=True, showgrid=False, zeroline=False,
                automargin=False),
    annotations=[
        label('(cm/s)', 963, 12, 21), label('Time', 542, 494), label('Time', 542, 905),
        label('V (cm/s)', 1217, 494), label('U (cm/s)', 1216, 906),
        label('Depth (m)', 13, 276, 23, -90), label('Depth (m)', 13, 684, 23, -90),
    ] + [dict(text='<b>%s</b>' % s, xref=xr + ' domain', yref=yr + ' domain', x=fx, y=0.088, xanchor='center',
              yanchor='middle', showarrow=False, font=dict(family=font_name, size=29, color='black'))
         for s, xr, yr, fx in [('A', 'x', 'y', 0.0377), ('B', 'x2', 'y2', 0.103), ('C', 'x3', 'y3', 0.0377), ('D', 'x4', 'y4', 0.103)]],
)

# the page's default body margin would push the figure off its place
fig.write_html("out.html", config=dict(displayModeBar=False), post_script="document.body.style.margin='0';")
